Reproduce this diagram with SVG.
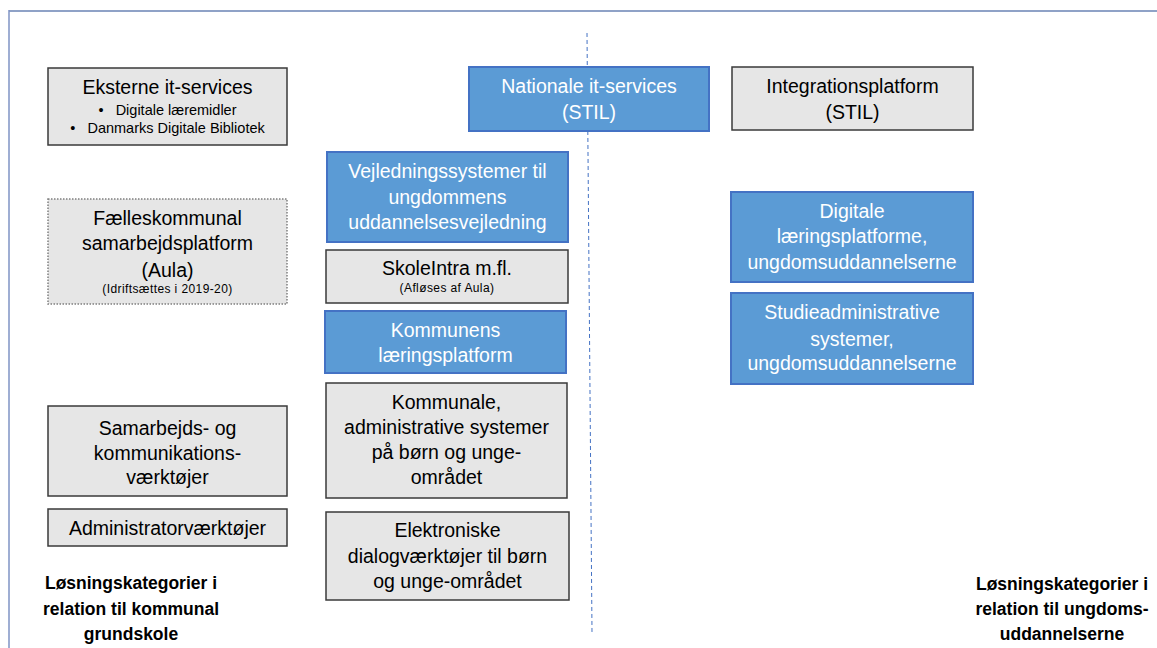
<svg xmlns="http://www.w3.org/2000/svg" width="1157" height="648" viewBox="0 0 1157 648">
<style>
.g{fill:#E6E6E6;stroke:#3A3A3A;stroke-width:1.5}
.gd{fill:#E6E6E6;stroke:#7F7F7F;stroke-width:1.5;stroke-dasharray:1.5 1.5}
.b{fill:#5B9BD5;stroke:#4472C4;stroke-width:2}
text{font-family:"Liberation Sans",Arial,sans-serif;text-anchor:middle}
.t{font-size:19.5px;fill:#000}
.w{font-size:19.5px;fill:#FFFFFF}
.s{font-size:14.5px;fill:#000}
.xs{font-size:12px;letter-spacing:0.4px;fill:#000}
.lab{font-size:17.5px;font-weight:bold;fill:#000}
</style>
<g id="frame">
<line x1="9" y1="11" x2="1157" y2="11" stroke="#8FA2C7" stroke-width="2"/>
<line x1="9" y1="10" x2="9" y2="648" stroke="#7F93C4" stroke-width="1.5"/>
</g>
<g id="connectors">
<line x1="587" y1="33" x2="592" y2="632" stroke="#4472C4" stroke-width="1" stroke-dasharray="4 3"/>
</g>
<g id="eksterne">
<rect class="g" x="48" y="68" width="239" height="77"/>
<text class="t" x="167.5" y="94">Eksterne it-services</text>
<text class="s" x="167.5" y="115" xml:space="preserve">•   Digitale læremidler</text>
<text class="s" x="167.5" y="133" xml:space="preserve">•   Danmarks Digitale Bibliotek</text>
</g>
<g id="faelles">
<rect class="gd" x="48" y="199" width="239" height="105"/>
<text class="t" x="167.5" y="225">Fælleskommunal</text>
<text class="t" x="167.5" y="250">samarbejdsplatform</text>
<text class="t" x="167.5" y="277">(Aula)</text>
<text class="xs" x="167.5" y="293">(Idriftsættes i 2019-20)</text>
</g>
<g id="samarbejds">
<rect class="g" x="48" y="406" width="239" height="90"/>
<text class="t" x="167.5" y="435">Samarbejds- og</text>
<text class="t" x="167.5" y="460">kommunikations-</text>
<text class="t" x="167.5" y="484">værktøjer</text>
</g>
<g id="administrator">
<rect class="g" x="48" y="509" width="239" height="37"/>
<text class="t" x="167.5" y="535">Administratorværktøjer</text>
</g>
<g id="nationale">
<rect class="b" x="469" y="67" width="240" height="64"/>
<text class="w" x="589" y="93">Nationale it-services</text>
<text class="w" x="589" y="119">(STIL)</text>
</g>
<g id="integration">
<rect class="g" x="732" y="67" width="241" height="63"/>
<text class="t" x="852.5" y="93">Integrationsplatform</text>
<text class="t" x="852.5" y="119">(STIL)</text>
</g>
<g id="vejledning">
<rect class="b" x="327" y="152" width="241" height="90"/>
<text class="w" x="447.5" y="178">Vejledningssystemer til</text>
<text class="w" x="447.5" y="204">ungdommens</text>
<text class="w" x="447.5" y="229">uddannelsesvejledning</text>
</g>
<g id="skoleintra">
<rect class="g" x="326" y="250" width="242" height="53"/>
<text class="t" x="447" y="275">SkoleIntra m.fl.</text>
<text class="xs" x="447" y="292">(Afløses af Aula)</text>
</g>
<g id="kommunens">
<rect class="b" x="325" y="311" width="241" height="62"/>
<text class="w" x="445.5" y="337">Kommunens</text>
<text class="w" x="445.5" y="362">læringsplatform</text>
</g>
<g id="kommunale">
<rect class="g" x="326" y="383" width="241" height="115"/>
<text class="t" x="446.5" y="409">Kommunale,</text>
<text class="t" x="446.5" y="434">administrative systemer</text>
<text class="t" x="446.5" y="459">på børn og unge-</text>
<text class="t" x="446.5" y="484">området</text>
</g>
<g id="elektroniske">
<rect class="g" x="326" y="512" width="243" height="88"/>
<text class="t" x="447.5" y="537">Elektroniske</text>
<text class="t" x="447.5" y="563">dialogværktøjer til børn</text>
<text class="t" x="447.5" y="588">og unge-området</text>
</g>
<g id="digitale">
<rect class="b" x="731" y="192" width="242" height="90"/>
<text class="w" x="852" y="218">Digitale</text>
<text class="w" x="852" y="243">læringsplatforme,</text>
<text class="w" x="852" y="269">ungdomsuddannelserne</text>
</g>
<g id="studieadm">
<rect class="b" x="731" y="293" width="242" height="91"/>
<text class="w" x="852" y="319">Studieadministrative</text>
<text class="w" x="852" y="346">systemer,</text>
<text class="w" x="852" y="370">ungdomsuddannelserne</text>
</g>
<g id="label-left">
<text class="lab" x="131" y="589">Løsningskategorier i</text>
<text class="lab" x="131" y="615">relation til kommunal</text>
<text class="lab" x="131" y="640">grundskole</text>
</g>
<g id="label-right">
<text class="lab" x="1062" y="590">Løsningskategorier i</text>
<text class="lab" x="1062" y="615">relation til ungdoms-</text>
<text class="lab" x="1062" y="640">uddannelserne</text>
</g>
</svg>
